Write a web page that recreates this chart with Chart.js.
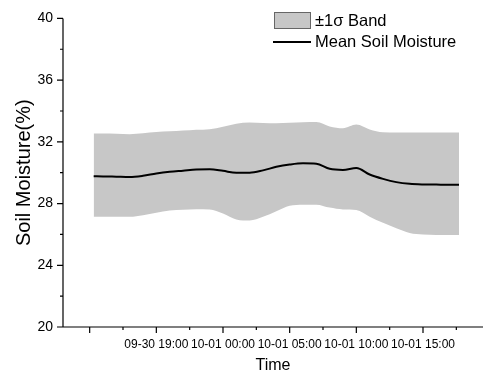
<!DOCTYPE html>
<html>
<head>
<meta charset="utf-8">
<script src="https://cdn.jsdelivr.net/npm/chart.js@4/dist/chart.umd.min.js"></script>
<style>
  body { margin: 0; background: #fff; }
  canvas { display: block; }
</style>
</head>
<body>
<canvas id="soil" width="483" height="376"></canvas>
<script>
// hours since 09-30 14:00
const timeHours = [0.3, 1, 2, 3, 4, 5, 6, 7, 8, 9, 10, 11, 12, 13, 14, 15, 16, 17, 18, 19, 20, 21, 22, 23, 24, 25, 26, 27, 27.7];
const meanMoisture = [29.77, 29.76, 29.74, 29.72, 29.8, 29.95, 30.06, 30.13, 30.2, 30.22, 30.12, 30.0, 30.0, 30.15, 30.38, 30.53, 30.61, 30.58, 30.25, 30.18, 30.3, 29.88, 29.6, 29.39, 29.28, 29.24, 29.23, 29.22, 29.22];
const bandUpper = [32.54, 32.54, 32.52, 32.5, 32.55, 32.63, 32.68, 32.73, 32.78, 32.82, 32.98, 33.18, 33.25, 33.22, 33.2, 33.23, 33.27, 33.29, 33.0, 32.88, 33.12, 32.8, 32.62, 32.6, 32.6, 32.6, 32.6, 32.6, 32.6];
const bandLower = [27.14, 27.14, 27.14, 27.14, 27.25, 27.4, 27.55, 27.6, 27.63, 27.62, 27.35, 26.97, 26.9, 27.14, 27.5, 27.85, 27.92, 27.93, 27.74, 27.62, 27.58, 27.15, 26.75, 26.4, 26.1, 26.0, 25.97, 25.96, 25.96];

const xMajorTicks = [0, 5, 10, 15, 20, 25];
const xMinorTicks = [2.5, 7.5, 12.5, 17.5, 22.5, 27.5];
const xTickLabels = ['', '09-30 19:00', '10-01 00:00', '10-01 05:00', '10-01 10:00', '10-01 15:00'];
const yMajorTicks = [20, 24, 28, 32, 36, 40];
const yMinorTicks = [22, 26, 30, 34, 38];

const FONT = "'Liberation Sans', Arial, sans-serif";
const BAND = 'rgb(199,199,199)';

const pts = arr => arr.map((v, i) => ({ x: timeHours[i], y: v }));

// axis lines, outward ticks and the legend, drawn like the Origin plot
const axesPlugin = {
  id: 'originAxes',
  afterDraw(chart) {
    const ctx = chart.ctx;
    const xs = chart.scales.x, ys = chart.scales.y;
    const a = chart.chartArea;
    ctx.save();
    ctx.strokeStyle = '#000';
    ctx.lineWidth = 1.2;
    ctx.beginPath();
    ctx.moveTo(a.left, a.top);
    ctx.lineTo(a.left, a.bottom);
    ctx.lineTo(a.right, a.bottom);
    yMajorTicks.forEach(v => { const p = ys.getPixelForValue(v); ctx.moveTo(a.left, p); ctx.lineTo(a.left - 6, p); });
    yMinorTicks.forEach(v => { const p = ys.getPixelForValue(v); ctx.moveTo(a.left, p); ctx.lineTo(a.left - 3, p); });
    xMajorTicks.forEach(v => { const p = xs.getPixelForValue(v); ctx.moveTo(p, a.bottom); ctx.lineTo(p, a.bottom + 6); });
    xMinorTicks.forEach(v => { const p = xs.getPixelForValue(v); ctx.moveTo(p, a.bottom); ctx.lineTo(p, a.bottom + 3); });
    ctx.stroke();

    // legend
    ctx.fillStyle = BAND;
    ctx.fillRect(274, 12, 37, 17);
    ctx.strokeStyle = '#666';
    ctx.lineWidth = 1;
    ctx.strokeRect(274.5, 12.5, 36, 16);
    ctx.strokeStyle = '#000';
    ctx.lineWidth = 2;
    ctx.beginPath();
    ctx.moveTo(273, 42);
    ctx.lineTo(311, 42);
    ctx.stroke();
    ctx.fillStyle = '#000';
    ctx.font = '16.5px ' + FONT;
    ctx.textBaseline = 'middle';
    ctx.textAlign = 'left';
    ctx.fillText('±1σ Band', 315, 21);
    ctx.fillText('Mean Soil Moisture', 315, 42);
    ctx.restore();
  }
};

const ctx = document.getElementById('soil').getContext('2d');
const chart = new Chart(ctx, {
  type: 'line',
  data: {
    datasets: [
      {
        label: 'Mean Soil Moisture',
        data: pts(meanMoisture),
        borderColor: '#000',
        borderWidth: 2,
        pointRadius: 0,
        cubicInterpolationMode: 'monotone',
        fill: false
      },
      {
        label: '±1σ Band',
        data: pts(bandUpper),
        borderWidth: 0,
        borderColor: BAND,
        backgroundColor: BAND,
        pointRadius: 0,
        cubicInterpolationMode: 'monotone',
        fill: '+1'
      },
      {
        label: 'lower',
        data: pts(bandLower),
        borderWidth: 0,
        borderColor: BAND,
        pointRadius: 0,
        cubicInterpolationMode: 'monotone',
        fill: false
      }
    ]
  },
  options: {
    responsive: false,
    animation: false,
    layout: { padding: { top: 15, right: 0, left: 0, bottom: 0 } },
    plugins: { legend: { display: false }, tooltip: { enabled: false } },
    scales: {
      x: {
        type: 'linear',
        min: -2,
        max: 29.5,
        grid: { display: false, drawTicks: false },
        border: { display: false },
        afterBuildTicks: s => { s.ticks = xMajorTicks.map(v => ({ value: v })); },
        afterFit: s => { s.height = 49; },
        ticks: {
          autoSkip: false,
          maxRotation: 0,
          padding: 10,
          color: '#000',
          font: { family: FONT, size: 12 },
          callback: (v, i) => xTickLabels[i]
        },
        title: {
          display: true,
          text: 'Time',
          color: '#000',
          font: { family: FONT, size: 16 },
          padding: { top: 0, bottom: 1 }
        }
      },
      y: {
        min: 20,
        max: 40,
        grid: { display: false, drawTicks: false },
        border: { display: false },
        afterBuildTicks: s => { s.ticks = yMajorTicks.map(v => ({ value: v })); },
        afterFit: s => { s.width = 63; },
        ticks: {
          padding: 10,
          color: '#000',
          font: { family: FONT, size: 14 }
        },
        title: {
          display: true,
          text: 'Soil Moisture(%)',
          color: '#000',
          font: { family: FONT, size: 20 },
          padding: { top: 12, bottom: 0 }
        }
      }
    }
  },
  plugins: [axesPlugin]
});
</script>
</body>
</html>
